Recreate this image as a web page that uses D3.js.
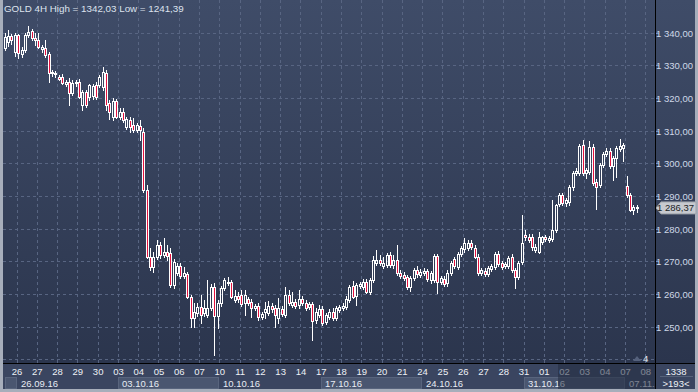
<!DOCTYPE html>
<html><head><meta charset="utf-8">
<script src="https://cdn.jsdelivr.net/npm/d3@7"></script>
<style>html,body{margin:0;padding:0;background:#3a4560;overflow:hidden}svg{display:block}text{font-family:"Liberation Sans",Arial,sans-serif}</style>
</head><body><svg id="c" width="698" height="392"></svg>
<script>
const title = "GOLD 4H High = 1342,03 Low = 1241,39";
const opens = [1335.3,1337.1,1339.0,1334.1,1339.3,1333.5,1334.7,1339.3,1340.5,1338.4,
1337.8,1335.0,1335.3,1333.5,1327.7,1327.4,1326.4,1326.4,1324.3,1324.9,
1321.5,1324.6,1324.9,1317.9,1321.9,1320.3,1320.6,1324.0,1324.0,1323.4,
1327.7,1318.5,1314.2,1319.1,1314.2,1315.7,1311.1,1313.3,1311.8,1310.2,
1311.4,1309.6,1291.9,1271.4,1268.3,1271.4,1275.0,1272.0,1272.9,1272.6,
1262.8,1266.5,1268.6,1265.5,1266.2,1259.1,1252.7,1254.2,1256.1,1254.2,
1253.6,1255.8,1262.2,1253.3,1257.3,1261.9,1263.4,1263.7,1258.2,1259.4,
1259.7,1257.3,1258.5,1257.6,1255.8,1256.4,1253.0,1254.5,1254.2,1256.4,
1255.8,1252.7,1255.4,1253.6,1259.7,1256.7,1257.6,1256.7,1258.5,1257.3,
1256.1,1257.0,1252.1,1253.6,1255.4,1251.5,1253.0,1254.5,1252.7,1255.1,
1255.8,1256.1,1258.2,1262.5,1259.4,1262.5,1262.2,1263.7,1260.6,1264.3,
1269.5,1270.4,1268.6,1268.9,1272.0,1268.9,1270.4,1266.5,1265.9,1265.2,
1262.2,1264.9,1267.4,1265.9,1266.5,1267.1,1264.3,1264.3,1271.7,1263.7,
1264.6,1263.4,1266.5,1270.7,1268.3,1272.3,1273.8,1274.1,1275.6,1274.1,
1271.4,1266.5,1267.1,1266.2,1267.7,1268.3,1272.3,1269.5,1268.6,1268.6,
1271.4,1267.4,1265.2,1269.8,1278.1,1277.5,1277.5,1273.5,1272.9,1275.9,
1277.5,1276.6,1276.9,1279.6,1287.6,1290.3,1287.9,1288.2,1292.8,1297.1,
1297.1,1305.6,1297.1,1297.4,1305.0,1294.3,1293.4,1299.5,1302.9,1303.8,
1299.2,1301.7,1304.4,1304.7,1293.1,1290.3,1285.7,1286.7];
const highs = [1339.9,1340.8,1339.6,1339.9,1339.6,1335.6,1339.9,1342.03,1341.1,1339.9,
1339.9,1336.2,1337.8,1334.1,1328.6,1328.3,1327.1,1327.4,1325.5,1326.1,
1325.5,1325.5,1325.8,1322.5,1322.5,1324.3,1324.3,1324.9,1327.1,1329.5,
1328.6,1319.4,1320.0,1319.7,1317.0,1317.0,1314.2,1314.2,1313.9,1312.4,
1313.3,1310.8,1293.4,1274.1,1272.9,1276.6,1275.9,1277.2,1275.0,1274.1,
1270.7,1269.5,1269.5,1268.3,1266.8,1259.7,1257.3,1257.3,1259.7,1258.2,
1264.3,1263.1,1263.4,1258.2,1262.5,1264.9,1265.2,1264.3,1261.3,1260.6,
1261.3,1261.3,1259.1,1258.5,1257.0,1257.3,1254.5,1257.6,1257.9,1257.3,
1256.7,1258.8,1256.4,1262.2,1261.3,1260.6,1258.5,1261.3,1259.4,1258.2,
1257.6,1257.6,1255.8,1256.7,1256.4,1254.2,1255.4,1255.8,1256.4,1256.7,
1257.3,1259.4,1262.8,1264.0,1263.4,1263.7,1264.6,1264.6,1264.9,1271.7,
1273.5,1272.0,1271.4,1272.6,1272.9,1272.0,1275.0,1267.4,1266.8,1265.9,
1265.5,1268.0,1268.6,1267.7,1268.0,1267.7,1267.1,1272.3,1272.3,1265.5,
1265.5,1267.4,1270.1,1271.4,1272.9,1274.7,1277.2,1276.6,1276.6,1275.0,
1272.3,1268.0,1268.0,1268.6,1269.2,1272.9,1273.2,1270.1,1269.8,1271.7,
1272.3,1268.0,1270.1,1284.2,1279.6,1278.4,1278.4,1275.3,1279.0,1277.8,
1278.1,1277.8,1288.8,1287.6,1290.9,1290.9,1289.4,1293.4,1297.7,1298.6,
1305.9,1307.2,1298.6,1306.9,1305.9,1295.2,1300.1,1303.5,1304.7,1304.7,
1302.3,1305.3,1307.5,1306.2,1296.1,1290.9,1287.3,1287.3];
const lows = [1334.7,1335.9,1336.5,1332.9,1332.3,1332.6,1334.1,1338.7,1337.8,1336.2,
1335.3,1334.1,1332.6,1324.9,1326.7,1326.4,1325.5,1324.3,1323.7,1317.9,
1320.9,1323.7,1320.0,1316.3,1317.3,1319.4,1319.7,1319.7,1323.4,1322.5,
1316.3,1313.6,1313.3,1313.9,1313.6,1312.7,1310.5,1309.6,1309.6,1309.6,
1307.2,1291.3,1271.1,1267.4,1266.8,1270.7,1271.1,1271.4,1270.4,1262.2,
1261.9,1265.9,1264.9,1264.9,1258.8,1249.9,1249.9,1253.3,1251.2,1253.3,
1253.0,1255.1,1241.39,1249.6,1256.4,1261.3,1262.8,1258.8,1257.6,1257.6,
1256.4,1253.6,1256.7,1253.0,1255.1,1252.1,1252.4,1252.7,1253.6,1254.5,
1249.9,1251.2,1253.3,1253.0,1256.7,1256.1,1255.8,1255.8,1256.7,1255.1,
1255.4,1246.0,1251.2,1253.0,1250.6,1250.9,1252.4,1252.1,1252.1,1254.5,
1255.1,1255.4,1257.6,1258.8,1256.7,1261.9,1261.6,1260.3,1260.0,1263.7,
1268.9,1268.9,1268.0,1268.3,1268.3,1268.0,1265.9,1264.9,1264.3,1261.6,
1261.0,1264.3,1265.2,1265.2,1265.9,1264.0,1263.4,1263.7,1260.3,1263.1,
1262.5,1262.5,1265.9,1268.0,1267.7,1271.7,1272.9,1273.5,1273.8,1271.1,
1265.9,1265.9,1265.5,1265.5,1267.1,1267.7,1268.6,1267.7,1268.0,1268.0,
1266.8,1261.9,1264.6,1269.2,1276.6,1275.9,1273.5,1272.9,1272.6,1275.3,
1276.3,1275.9,1276.3,1279.0,1287.0,1287.3,1287.0,1287.3,1291.9,1296.4,
1296.4,1296.4,1295.5,1296.8,1293.4,1286.0,1292.8,1298.9,1302.3,1298.6,
1294.9,1295.8,1303.8,1300.7,1289.7,1285.4,1284.5,1285.1];
const closes = [1338.7,1339.0,1337.8,1339.3,1333.8,1334.7,1339.3,1340.2,1338.4,1337.8,
1335.6,1335.6,1333.2,1327.7,1328.0,1327.7,1325.8,1324.6,1324.9,1321.5,
1324.6,1324.9,1320.3,1321.9,1317.9,1324.0,1323.7,1320.3,1326.4,1328.0,
1317.9,1315.7,1319.1,1314.2,1315.7,1313.3,1313.6,1311.1,1310.2,1311.8,
1310.2,1291.9,1271.4,1268.3,1271.4,1275.0,1272.0,1272.9,1271.7,1262.8,
1269.8,1268.6,1265.5,1266.5,1259.1,1252.7,1254.5,1256.1,1253.6,1255.8,
1255.8,1262.2,1253.3,1257.3,1261.9,1264.3,1263.7,1259.1,1259.4,1258.5,
1257.0,1259.7,1257.3,1255.8,1256.4,1253.0,1253.9,1255.4,1256.4,1255.4,
1253.6,1255.8,1253.9,1259.7,1257.3,1257.6,1256.4,1258.5,1257.3,1255.8,
1257.0,1251.8,1254.5,1255.4,1251.2,1253.6,1254.5,1252.7,1255.8,1256.1,
1256.4,1258.5,1262.2,1259.1,1262.8,1263.1,1263.7,1260.6,1264.3,1270.4,
1270.4,1269.5,1269.5,1272.0,1268.9,1270.4,1266.5,1265.5,1264.9,1262.2,
1264.9,1267.4,1266.2,1266.8,1267.1,1264.6,1266.5,1271.7,1263.7,1264.9,
1263.1,1266.5,1269.5,1268.6,1272.3,1274.1,1275.6,1275.6,1274.4,1271.4,
1266.5,1267.4,1266.2,1268.0,1268.6,1272.3,1269.2,1268.3,1269.2,1271.1,
1267.4,1265.2,1269.5,1275.6,1277.5,1276.6,1274.4,1274.4,1277.5,1277.5,
1276.9,1277.2,1279.6,1287.3,1290.3,1287.9,1288.8,1292.8,1297.1,1297.7,
1305.3,1297.1,1298.0,1305.0,1294.0,1292.8,1299.5,1302.9,1303.8,1299.2,
1301.7,1304.7,1305.3,1305.6,1290.3,1285.7,1286.7,1286.37];
const dayLabels = ["26","27","28","29","30","03","04","05","06","07","10","11","12","13","14","17","18","19","20","21","24","25","26","27","28","31","01","02","03","04","07","08"];
const weekLabels = ["26.09.16","03.10.16","10.10.16","17.10.16","24.10.16","31.10.16","07.11."];
const priceTicks = [1250,1260,1270,1280,1290,1300,1310,1320,1330,1340];
const gridLevels = [1240,1250,1260,1270,1280,1290,1300,1310,1320,1330,1340];
const lastPrice = 1286.37;
const barCount = "1338";
const visibleBars = ">193<";
const hiddenCount = "4";

const svg = d3.select("#c");
const W = 698, H = 392;
const plotL = 3, plotR = 655, plotB = 363;
const slots = 192, firstCandle = 4, perDay = 6;

const x = d3.scaleBand().domain(d3.range(slots)).range([plotL, plotL + slots*3.38]).padding(0);
const y = d3.scaleLinear().domain([1240, 1340]).range([359.4, 32.7]);
const fmt = v => { const s = d3.format(",.2f")(v); return s.replace(/,/g," ").replace(".",","); };

const defs = svg.append("defs");
const g1 = defs.append("linearGradient").attr("id","bg").attr("x1",0).attr("y1",0).attr("x2",0).attr("y2",1);
g1.append("stop").attr("offset","0%").attr("stop-color","#3f4c68");
g1.append("stop").attr("offset","100%").attr("stop-color","#2b354d");
defs.append("clipPath").attr("id","plotclip").append("rect").attr("x",plotL).attr("y",0).attr("width",plotR-plotL).attr("height",plotB);

// frame / backgrounds
svg.append("rect").attr("width",W).attr("height",H).attr("fill","#a7aebb");
svg.append("rect").attr("x",plotL).attr("y",0).attr("width",695-plotL).attr("height",389).attr("fill","#3a4560");
svg.append("rect").attr("x",plotL).attr("y",0).attr("width",plotR-plotL).attr("height",plotB).attr("fill","url(#bg)");
svg.append("rect").attr("x",plotR+1).attr("y",0).attr("width",695-plotR-1).attr("height",plotB).attr("fill","url(#bg)");

// grid
const grid = svg.append("g").attr("stroke","#586582").attr("stroke-width",1).attr("stroke-dasharray","3,3").attr("shape-rendering","crispEdges");
grid.selectAll("line.h").data(gridLevels).join("line")
  .attr("x1",plotL).attr("x2",plotR).attr("y1",d=>Math.round(y(d))+0.5).attr("y2",d=>Math.round(y(d))+0.5);
const dayIdx = d3.range(dayLabels.length).map(k => firstCandle + k*perDay);
grid.selectAll("line.v").data(dayIdx).join("line")
  .attr("y1",0).attr("y2",plotB).attr("x1",d=>Math.round(x(d))+0.5).attr("x2",d=>Math.round(x(d))+0.5);

// title
svg.append("text").attr("x",4).attr("y",12).attr("font-size",9.8).attr("fill","#dde3ee").text(title);

// candles
const data = opens.map((o,i)=>({i,o,h:highs[i],l:lows[i],c:closes[i]}));
const cg = svg.append("g").attr("clip-path","url(#plotclip)").attr("shape-rendering","crispEdges");
data.forEach(d => {
  const cx = Math.round(x(d.i) + x.bandwidth()/2);
  const top = Math.round(y(Math.max(d.o,d.c)));
  let bot = Math.round(y(Math.min(d.o,d.c)));
  if (bot - top < 1) bot = top + 1;
  const yh = Math.round(y(d.h)), yl = Math.round(y(d.l));
  if (yh < top) cg.append("line").attr("x1",cx+0.5).attr("x2",cx+0.5).attr("y1",yh).attr("y2",top).attr("stroke","#ffffff");
  if (yl > bot) cg.append("line").attr("x1",cx+0.5).attr("x2",cx+0.5).attr("y1",bot).attr("y2",yl+1).attr("stroke","#ffffff");
  cg.append("rect").attr("x",cx-0.5).attr("y",top+0.5).attr("width",2).attr("height",bot-top)
    .attr("fill", d.c < d.o ? "#e3123f" : "none").attr("stroke","#ffffff").attr("stroke-width",1);
});

// hidden count marker
svg.append("path").attr("d","M633,361 L637,356 L641,361 Z").attr("fill","#55617c");
svg.append("text").attr("x",643).attr("y",362).attr("font-size",9.5).attr("fill","#e8ecf4").text(hiddenCount);

// bottom axis - week boxes
const weekEdges = d3.range(weekLabels.length).map(w => Math.round(x(firstCandle + w*5*perDay)));
svg.append("rect").attr("x",5.5).attr("y",377.5).attr("width",weekEdges[0]-6).attr("height",11).attr("fill","#4a5670").attr("stroke","#58647d");
weekLabels.forEach((lab,w) => {
  const x0 = weekEdges[w], x1 = w < weekLabels.length-1 ? weekEdges[w+1] : plotR;
  svg.append("rect").attr("x",x0+0.5).attr("y",377.5).attr("width",x1-x0-1).attr("height",11)
    .attr("fill", w%2===1 ? "#4a5670" : "#3a4560").attr("stroke", w%2===1 ? "#58647d" : "#3a4560");
  svg.append("text").attr("x",x0+4).attr("y",386.5).attr("font-size",9.5).attr("fill","#e8ecf4").text(lab);
});
// day labels
svg.selectAll("text.day").data(dayIdx).join("text")
  .attr("x",d=>x(d)+0.5).attr("y",375).attr("text-anchor","middle").attr("font-size",9.5).attr("fill","#eef1f6")
  .text((d,k)=>dayLabels[k]);
// shaded overlay of not-yet-scrolled region
svg.append("rect").attr("x",Math.round(x(164))+1).attr("y",364).attr("width",plotR-Math.round(x(164))-1).attr("height",25)
  .attr("fill","#232c40").attr("opacity",0.55);

// right axis
const ra = svg.append("g");
priceTicks.forEach(v => {
  const yy = Math.round(y(v));
  ra.append("line").attr("x1",656).attr("x2",659).attr("y1",yy+0.5).attr("y2",yy+0.5).attr("stroke","#6f8fc9");
  ra.append("text").attr("x",693).attr("y",yy+3.5).attr("text-anchor","end").attr("font-size",9.5).attr("fill","#cfd8e8").text(fmt(v));
});
// last price marker
const ly = y(lastPrice);
svg.append("path").attr("d",`M656,${ly} L661,${ly-6} L696,${ly-6} L696,${ly+6} L661,${ly+6} Z`).attr("fill","#c6c9cf").attr("stroke","#9ca1aa");
svg.append("text").attr("x",694).attr("y",ly+3.5).attr("text-anchor","end").attr("font-size",9.5).attr("fill","#1c1f26").text(fmt(lastPrice));

// bottom-right info
svg.append("line").attr("x1",660).attr("x2",693).attr("y1",376.5).attr("y2",376.5).attr("stroke","#56627a");
svg.append("text").attr("x",676).attr("y",375).attr("text-anchor","middle").attr("font-size",9.5).attr("fill","#eef1f6").text(barCount);
svg.append("text").attr("x",676).attr("y",387).attr("text-anchor","middle").attr("font-size",9.5).attr("fill","#eef1f6").text(visibleBars);

// separators
svg.append("line").attr("x1",plotR+0.5).attr("x2",plotR+0.5).attr("y1",0).attr("y2",389).attr("stroke","#000");
svg.append("line").attr("x1",plotL).attr("x2",695).attr("y1",plotB+0.5).attr("y2",plotB+0.5).attr("stroke","#000");
</script></body></html>
